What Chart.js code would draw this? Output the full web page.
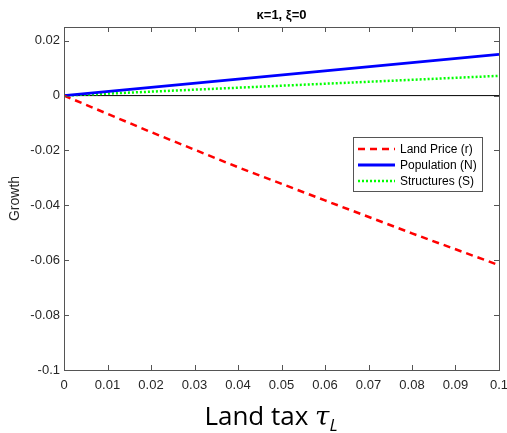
<!DOCTYPE html>
<html>
<head>
<meta charset="utf-8">
<script src="https://cdn.jsdelivr.net/npm/chart.js@4"></script>
<style>
  html, body { margin: 0; padding: 0; background: #fff; }
  #wrap { width: 507px; height: 433px; }
</style>
</head>
<body>
<div id="wrap"><canvas id="chart" width="507" height="433"></canvas></div>
<script>
// values
const taxRates = [0, 0.02, 0.04, 0.06, 0.08, 0.1];
const landPrice = [0, -0.0133, -0.0261, -0.0382, -0.0502, -0.0618];
const population = [0, 0.003, 0.006, 0.009, 0.012, 0.015];
const structures = [0, 0.00144, 0.00288, 0.00432, 0.00576, 0.0072];
const zeroLine = [0, 0, 0, 0, 0, 0];

const xTicks = [0, 0.01, 0.02, 0.03, 0.04, 0.05, 0.06, 0.07, 0.08, 0.09, 0.1];
const yTicks = [-0.1, -0.08, -0.06, -0.04, -0.02, 0, 0.02];

const titleText = "κ=1, ξ=0";
const yTitle = "Growth";

const axisColor = "#262626";
const tickFont = "13px 'Liberation Sans', Arial, sans-serif";

function pts(ys) {
  return taxRates.map((x, i) => ({ x: x, y: ys[i] }));
}

// fmt tick like matlab: 0, 0.01 ... 0.1, -0.02 ...
function fmt(v) {
  return String(Math.round(v * 1000) / 1000);
}

// draws the box, inward ticks, title, labels and legend (matlab look)
const matlabLook = {
  id: "matlabLook",
  afterDraw(chart) {
    const ctx = chart.ctx;
    const a = chart.chartArea;
    const xs = chart.scales.x;
    const ys = chart.scales.y;
    ctx.save();

    // box
    ctx.strokeStyle = "#555";
    ctx.lineWidth = 1;
    ctx.strokeRect(Math.round(a.left) + 0.5, Math.round(a.top) + 0.5,
      Math.round(a.right - a.left), Math.round(a.bottom - a.top));

    // inward ticks
    ctx.beginPath();
    xTicks.forEach((t) => {
      const px = Math.round(xs.getPixelForValue(t)) + 0.5;
      ctx.moveTo(px, a.bottom); ctx.lineTo(px, a.bottom - 5);
      ctx.moveTo(px, a.top); ctx.lineTo(px, a.top + 5);
    });
    yTicks.forEach((t) => {
      const py = Math.round(ys.getPixelForValue(t)) + 0.5;
      ctx.moveTo(a.left, py); ctx.lineTo(a.left + 5, py);
      ctx.moveTo(a.right, py); ctx.lineTo(a.right - 5, py);
    });
    ctx.stroke();

    // tick labels
    ctx.fillStyle = axisColor;
    ctx.font = tickFont;
    ctx.textAlign = "center";
    ctx.textBaseline = "middle";
    xTicks.forEach((t) => {
      ctx.fillText(fmt(t), xs.getPixelForValue(t), a.bottom + 15);
    });
    ctx.textAlign = "right";
    yTicks.forEach((t) => {
      ctx.fillText(fmt(t), a.left - 4, ys.getPixelForValue(t));
    });

    // title
    ctx.font = "bold 13px 'Liberation Sans', Arial, sans-serif";
    ctx.fillStyle = "#000";
    ctx.textAlign = "center";
    ctx.fillText(titleText, (a.left + a.right) / 2, 15);

    // y title
    ctx.save();
    ctx.translate(15, (a.top + a.bottom) / 2);
    ctx.rotate(-Math.PI / 2);
    ctx.font = "14px 'Liberation Sans', Arial, sans-serif";
    ctx.fillStyle = axisColor;
    ctx.fillText(yTitle, 0, 0);
    ctx.restore();

    // x title: "Land tax τ_L"
    ctx.fillStyle = "#000";
    ctx.textAlign = "left";
    ctx.textBaseline = "alphabetic";
    const part1 = "Land tax ";
    ctx.font = "26px 'Open Sans', sans-serif";
    const w1 = ctx.measureText(part1).width;
    ctx.font = "italic 26px 'DejaVu Serif', serif";
    const w2 = ctx.measureText("τ").width;
    ctx.font = "italic 17px 'Open Sans', sans-serif";
    const w3 = ctx.measureText("L").width;
    let x0 = 271 - (w1 + w2 + w3) / 2;
    const base = 425;
    ctx.font = "26px 'Open Sans', sans-serif";
    ctx.fillText(part1, x0, base);
    ctx.font = "italic 26px 'DejaVu Serif', serif";
    ctx.fillText("τ", x0 + w1, base);
    ctx.font = "italic 17px 'Open Sans', sans-serif";
    ctx.fillText("L", x0 + w1 + w2, base + 6);

    // legend box
    const lx = 353, ly = 137, lw = 129, lh = 54;
    ctx.fillStyle = "#fff";
    ctx.fillRect(lx, ly, lw, lh);
    ctx.strokeStyle = "#555";
    ctx.lineWidth = 1;
    ctx.strokeRect(lx + 0.5, ly + 0.5, lw, lh);
    ctx.font = "12px 'Liberation Sans', Arial, sans-serif";
    ctx.textBaseline = "middle";
    chart.data.datasets.forEach((ds, i) => {
      if (ds.hideInLegend) return;
      const rowY = ly + 12 + i * 16;
      ctx.beginPath();
      ctx.strokeStyle = ds.borderColor;
      ctx.lineWidth = ds.borderWidth;
      ctx.setLineDash(ds.borderDash || []);
      ctx.moveTo(lx + 5, rowY);
      ctx.lineTo(lx + 42, rowY);
      ctx.stroke();
      ctx.setLineDash([]);
      ctx.fillStyle = "#000";
      ctx.fillText(ds.label, lx + 47, rowY + 1);
    });

    ctx.restore();
  },
};

new Chart(document.getElementById("chart"), {
  type: "line",
  data: {
    datasets: [
      {
        label: "Land Price (r)",
        data: pts(landPrice),
        borderColor: "#ff0000",
        borderWidth: 2.5,
        borderDash: [7, 5],
      },
      {
        label: "Population (N)",
        data: pts(population),
        borderColor: "#0000ff",
        borderWidth: 2.8,
      },
      {
        label: "Structures (S)",
        data: pts(structures),
        borderColor: "#00ff00",
        borderWidth: 2.5,
        borderDash: [2, 2],
      },
      {
        label: "zero",
        data: pts(zeroLine),
        borderColor: "#000",
        borderWidth: 1,
        hideInLegend: true,
      },
    ],
  },
  options: {
    responsive: false,
    animation: false,
    events: [],
    elements: { point: { radius: 0 }, line: { tension: 0 } },
    layout: { padding: { left: 64, right: 8, top: 27, bottom: 63 } },
    plugins: { legend: { display: false }, title: { display: false }, tooltip: { enabled: false } },
    scales: {
      x: {
        type: "linear",
        min: 0,
        max: 0.1,
        display: false,
      },
      y: {
        type: "linear",
        min: -0.1,
        max: 0.025,
        display: false,
      },
    },
  },
  plugins: [matlabLook],
});
</script>
</body>
</html>
